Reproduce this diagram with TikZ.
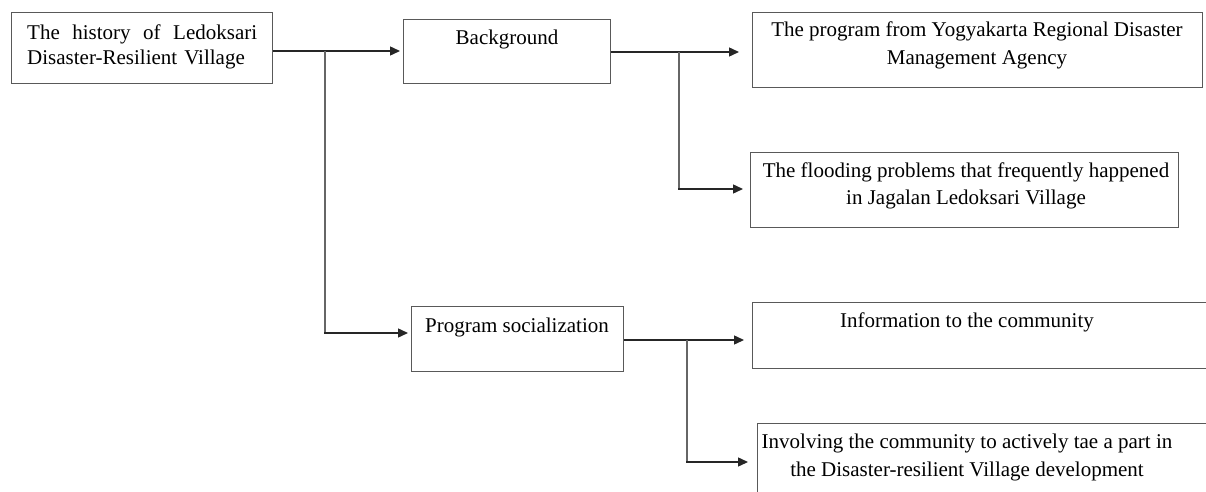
\documentclass[tikz,border=0pt]{standalone}
\usepackage{fontspec}
\setmainfont{Liberation Serif}
\usetikzlibrary{arrows.meta}
\begin{document}
\begin{tikzpicture}[x=1pt,y=-1pt,
  box/.style={draw=black!65, line width=1.3pt, inner sep=0pt, anchor=north west},
  lbl/.style={font=\fontsize{21}{27}\selectfont, inner sep=0pt, align=center, anchor=base},
  conn/.style={draw=black!85, line width=1.4pt},
  vconn/.style={draw=black!60, line width=1.4pt},
  arr/.style={conn, -{Triangle[length=10pt,width=9pt]}}]
\useasboundingbox (0,0) rectangle (1206,492);
\clip (0,0) rectangle (1206,492);
% boxes
\node[box, minimum width=261pt, minimum height=71pt] (A) at (11,12) {};
\node[box, minimum width=207pt, minimum height=64pt] (B) at (403,19) {};
\node[box, minimum width=450pt, minimum height=75pt] (C) at (752,12) {};
\node[box, minimum width=428pt, minimum height=75pt] (D) at (750,152) {};
\node[box, minimum width=212pt, minimum height=65pt] (P) at (411,306) {};
\node[box, minimum width=470pt, minimum height=66pt] (E) at (752,302) {};
\node[box, minimum width=470pt, minimum height=100pt] (F) at (757,423) {};
% texts
\node[lbl, text width=230pt, align=left, anchor=base west, font=\fontsize{21}{25}\selectfont] (tA) at (27,40)
  {The\hfill history\hfill of\hfill Ledoksari\\Disaster-Resilient Village};
\node[lbl] (tB) at (507,45) {Background};
\node[lbl, font=\fontsize{21}{28}\selectfont] (tC) at (977,65) {The program from Yogyakarta Regional Disaster\\Management Agency};
\node[lbl] (tD) at (966,204) {The flooding problems that frequently happened\\in Jagalan Ledoksari Village};
\node[lbl] (tP) at (517,332) {Program socialization};
\node[lbl] (tE) at (967,327) {Information to the community};
\node[lbl, font=\fontsize{21}{28}\selectfont] (tF) at (967,476) {Involving the community to actively tae a part in\\the Disaster-resilient Village development};
% junctions and corners
\coordinate (j1) at (325,51);
\coordinate (j2) at (679,52);
\coordinate (j3) at (687,340);
\coordinate (k1) at (325,333);
\coordinate (k2) at (679,189);
\coordinate (k3) at (687,462);
% connectors
\draw[arr, shorten >=3pt] (A.east |- j1) -- (B.west |- j1);
\draw[vconn] (j1) -- (k1);
\draw[arr, shorten >=3pt] ([xshift=-0.7pt]k1) -- (P.west |- k1);
\draw[arr, shorten >=13pt] (B.east |- j2) -- (C.west |- j2);
\draw[vconn] (j2) -- (k2);
\draw[arr, shorten >=7pt] ([xshift=-0.7pt]k2) -- (D.west |- k2);
\draw[arr, shorten >=8pt] (P.east |- j3) -- (E.west |- j3);
\draw[vconn] (j3) -- (k3);
\draw[arr, shorten >=9pt] ([xshift=-0.7pt]k3) -- (F.west |- k3);
\end{tikzpicture}
\end{document}
